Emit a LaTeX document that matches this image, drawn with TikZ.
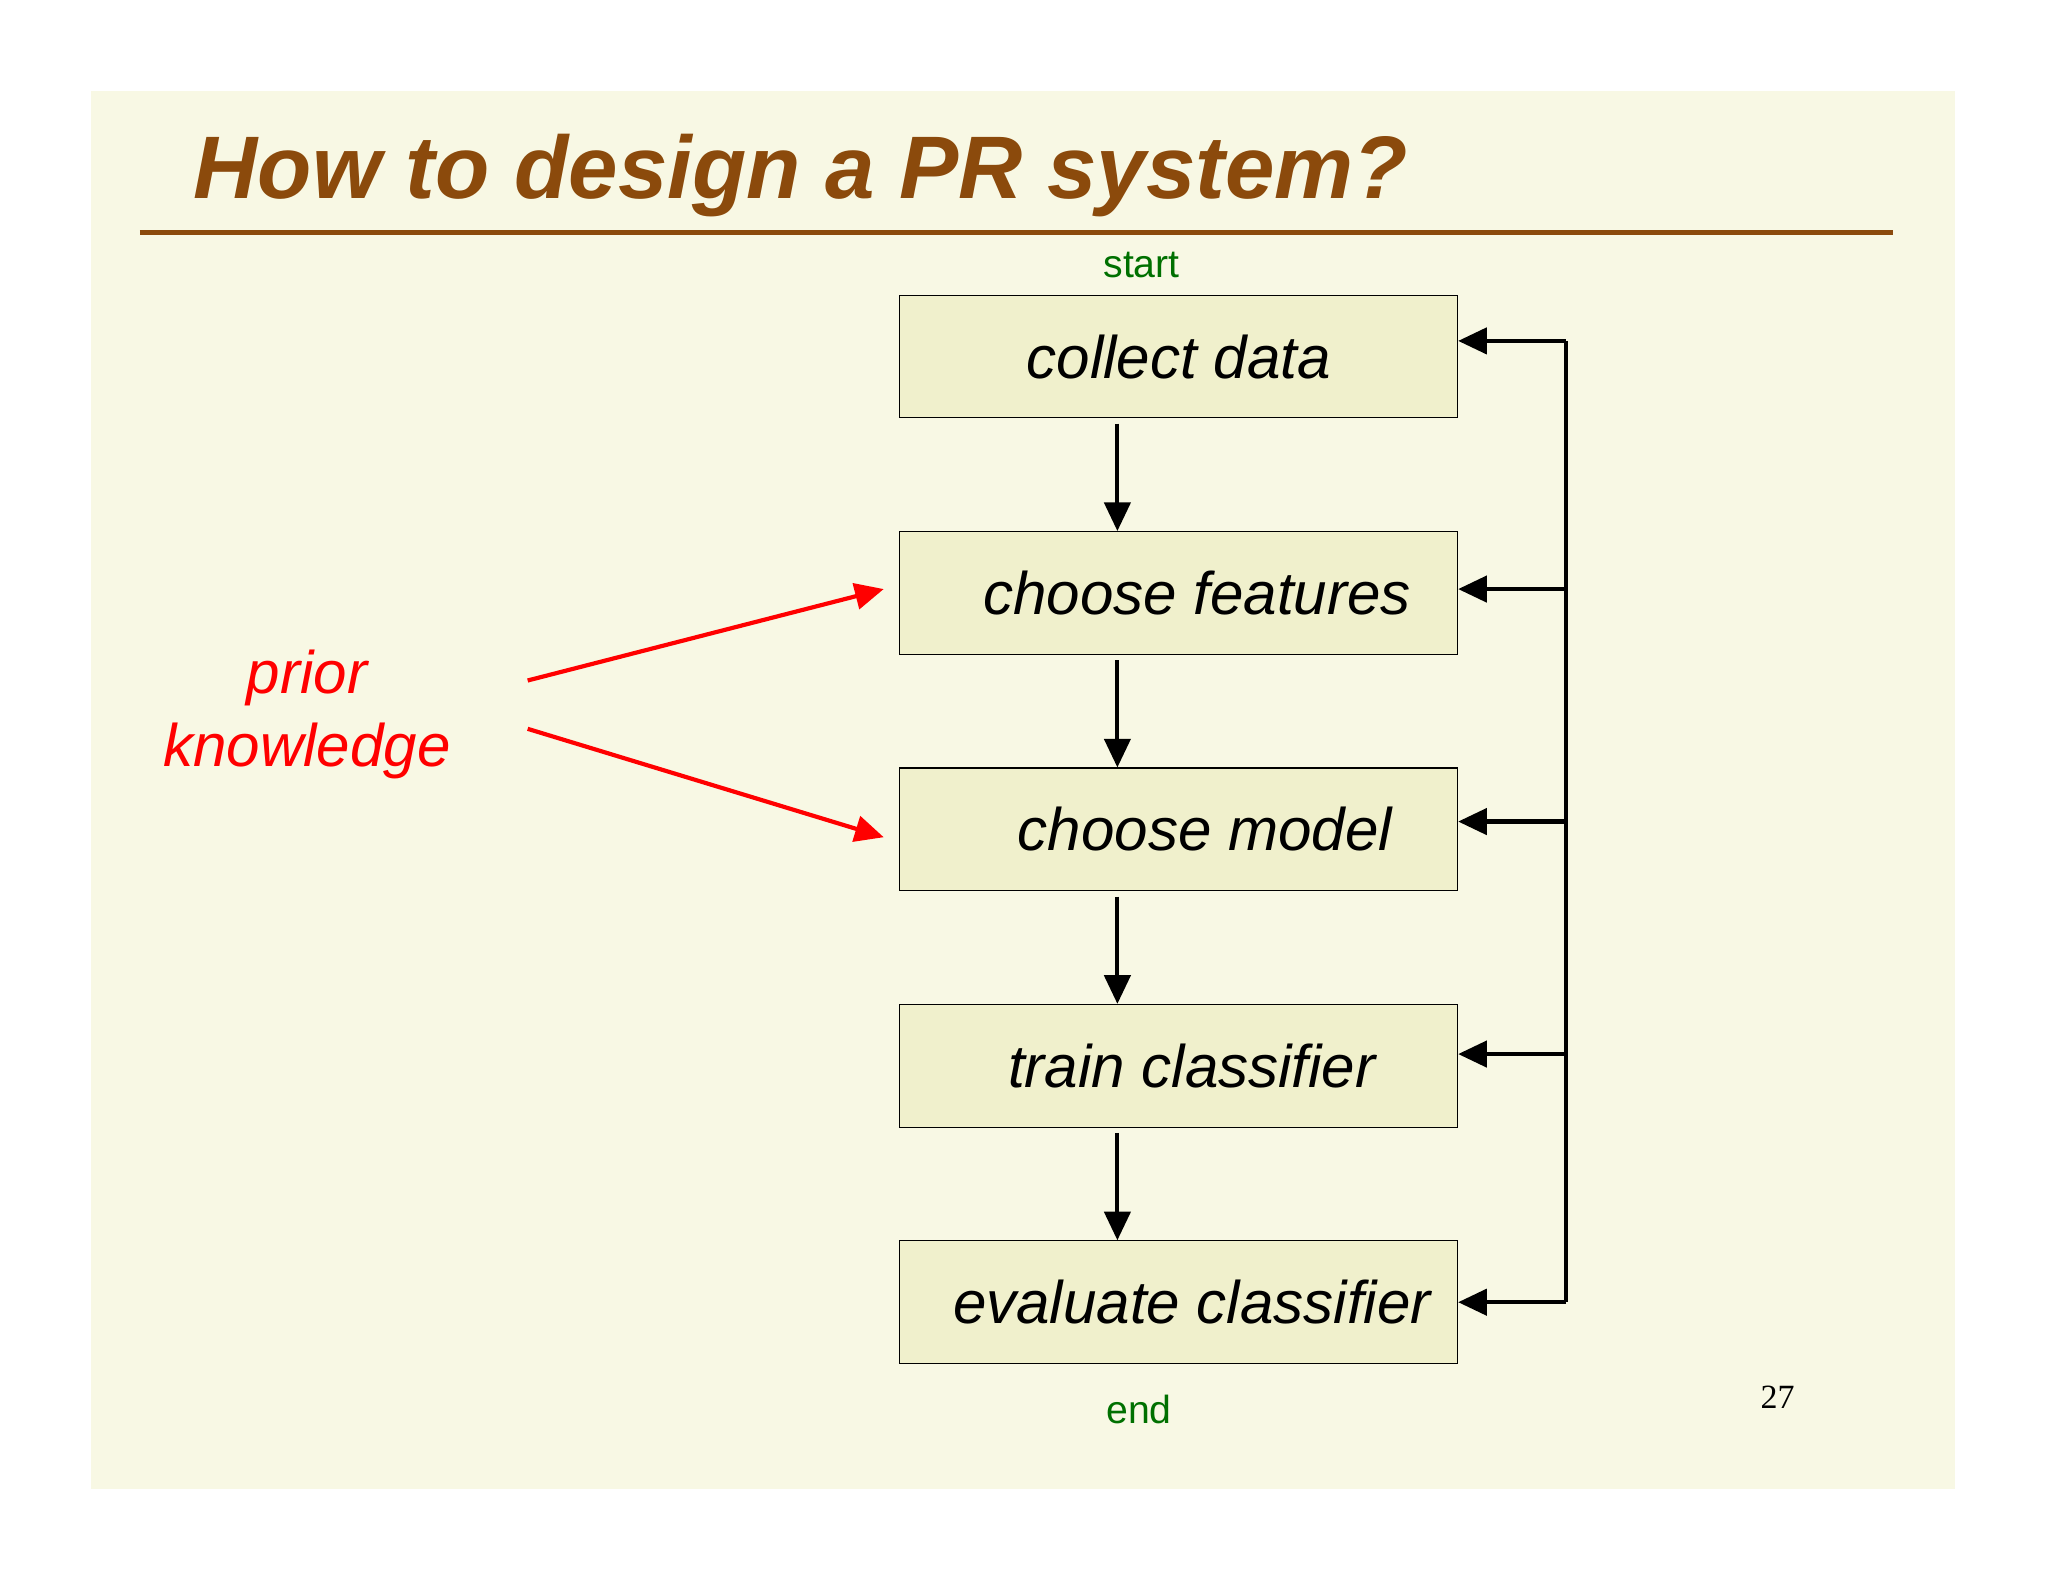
\documentclass[tikz,border=0pt]{standalone}
\usepackage{fontspec}
\setmainfont{Liberation Sans}
\newfontfamily\seriffont{Liberation Serif}
\usetikzlibrary{arrows.meta}
\definecolor{bg}{HTML}{F8F8E4}
\definecolor{boxfill}{HTML}{F0F0CC}
\definecolor{brown}{HTML}{8B4A0C}
\definecolor{dgreen}{HTML}{007000}
\tikzset{
 stepbox/.style={draw=black,fill=boxfill,minimum width=213.5pt,minimum height=47pt,inner sep=0pt,font=\fontsize{23}{26}\selectfont\itshape},
 flow/.style={line width=1.6pt,-{Triangle[length=11pt,width=10pt]}},
 redarr/.style={red,line width=1.6pt,-{Triangle[length=11pt,width=10pt]}},
 lbl/.style={text=dgreen,font=\fontsize{15}{18}\selectfont}
}
\begin{document}
\begin{tikzpicture}[x=0.5pt,y=-0.5pt]
\useasboundingbox (0,0) rectangle (1568,1210);
\fill[white] (0,0) rectangle (1568,1210);
\fill[bg] (70,70) rectangle (1497,1140);
\node[anchor=base west,text=brown,font=\fontsize{34}{40}\selectfont\bfseries\itshape,inner sep=0pt] (title) at (148,152) {How to design a PR system?};
\draw[brown,line width=2pt] (107,178) -- (1449,178);
\node[stepbox] (b1) at (902.5,273) {collect data};
\node[stepbox] (b2) at (902.5,454) {\hspace*{14pt}choose features};
\node[stepbox] (b3) at (902.5,635) {\hspace*{20pt}choose model};
\node[stepbox] (b4) at (902.5,816) {\hspace*{10pt}train classifier};
\node[stepbox] (b5) at (902.5,997) {\hspace*{10pt}evaluate classifier};
\foreach \a/\b in {b1/b2,b2/b3,b3/b4,b4/b5}
  \draw[flow] ([xshift=-23.5pt,yshift=-2pt]\a.south) -- ([xshift=-23.5pt]\b.north);
\coordinate (ftop) at (1199,261);
\coordinate (fbot) at (1199,997);
\draw[line width=1.6pt] (ftop) -- (fbot);
\foreach \b/\y in {b1/261,b2/451,b3/629,b4/807,b5/997}
  \draw[flow] (1199,\y) -- (\b.east |- 0,\y);
\node[text=red,font=\fontsize{23}{28}\selectfont\itshape,align=center] (pk) at (235,547) {prior\\knowledge};
\coordinate (p1) at (404,521);
\coordinate (p2) at (404,558);
\draw[redarr] (p1) -- ([xshift=-6pt]b2.west |- 0,451);
\draw[redarr] (p2) -- ([xshift=-6pt]b3.west |- 0,641);
\node[lbl] (start) at (874,203) {start};
\node[lbl] (end) at (872,1079) {end};
\node[font=\seriffont\fontsize{13}{15}\selectfont] (pg) at (1361,1070) {27};
\end{tikzpicture}
\end{document}
